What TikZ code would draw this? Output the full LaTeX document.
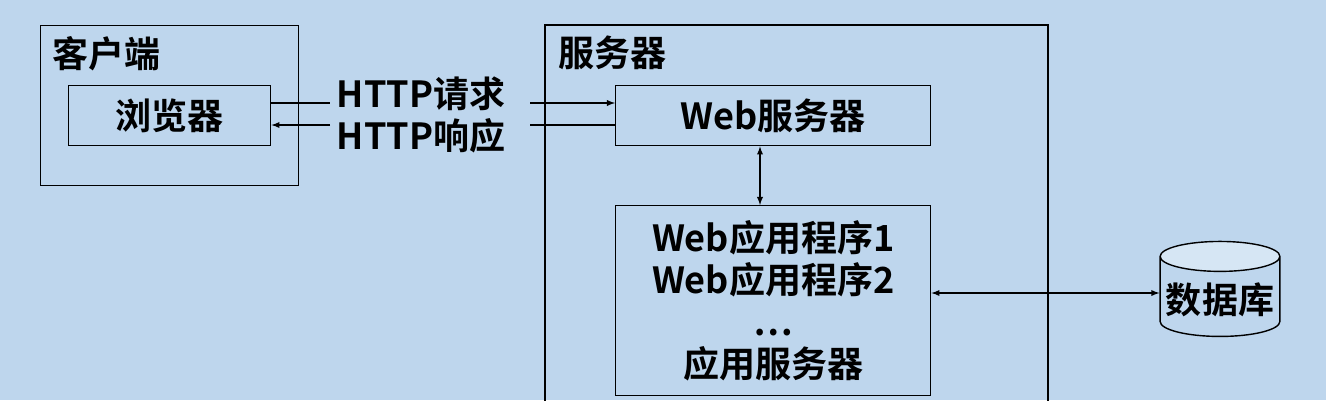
\documentclass[tikz,border=0pt]{standalone}
\usepackage{fontspec}
\setmainfont{Noto Sans CJK SC Bold}
\usetikzlibrary{positioning, arrows, shapes.geometric}
\tikzset{
    x=0.02cm, y=-0.02cm,
    box/.style={draw, thick, inner sep=0pt, anchor=north west}, % plain boxes
    lbl/.style={font=\fontsize{20.5}{24}\selectfont, align=center},
    link/.style={draw, semithick, ->, >=latex},
}
\begin{document}
\begin{tikzpicture}
            \fill[fill={rgb,255:red,190;green,214;blue,237}] (0,0) rectangle (1326,400);
            \useasboundingbox (0,0) rectangle (1326,400);
            \node[box, minimum width=258*0.02cm, minimum height=160*0.02cm] (client) at (40,25) {};
            \node[lbl, anchor=north west] at (46,30) {客户端};
            \node[box, minimum width=202*0.02cm, minimum height=60*0.02cm, lbl] (browser) at (68,85) {浏览器};
            \draw[thick] (545,410) |- (1048,25) -- (1048,410);
            \node[lbl, anchor=north west] at (552,30) {服务器};
            \node[box, minimum width=315*0.02cm, minimum height=60*0.02cm, lbl] (websrv) at (615,85) {Web服务器};
            \node[box, minimum width=315*0.02cm, minimum height=190*0.02cm, lbl] (apps) at (615,205)
                {Web应用程序1\\Web应用程序2\\…\\应用服务器};
            \node[lbl, anchor=center] (http) at (421,115) {HTTP请求\\HTTP响应};
            \node[cylinder, draw, thick, shape border rotate=90, aspect=0.25,
                  minimum width=116*0.02cm, minimum height=95*0.02cm,
                  cylinder uses custom fill, cylinder end fill={rgb,255:red,214;green,230;blue,244},
                  cylinder body fill={rgb,255:red,190;green,214;blue,237}, lbl] (db) at (1220,300) {\raisebox{-6pt}{数据库}};
            \coordinate (q1) at (330,103);
            \coordinate (q2) at (530,103);
            \coordinate (r1) at (330,125);
            \coordinate (r2) at (530,125);
            \draw[semithick] (browser.east |- q1) -- (q1);
            \draw[link] (q2) -- (websrv.west |- q2);
            \draw[semithick] (websrv.west |- r2) -- (r2);
            \draw[link] (r1) -- (browser.east |- r1);
            \draw[link, <->] (websrv.south -| 760,0) -- (apps.north -| 760,0);
            \draw[link, <->] (apps.east |- 0,293) -- (db.west |- 0,293);
\end{tikzpicture}
\end{document}
